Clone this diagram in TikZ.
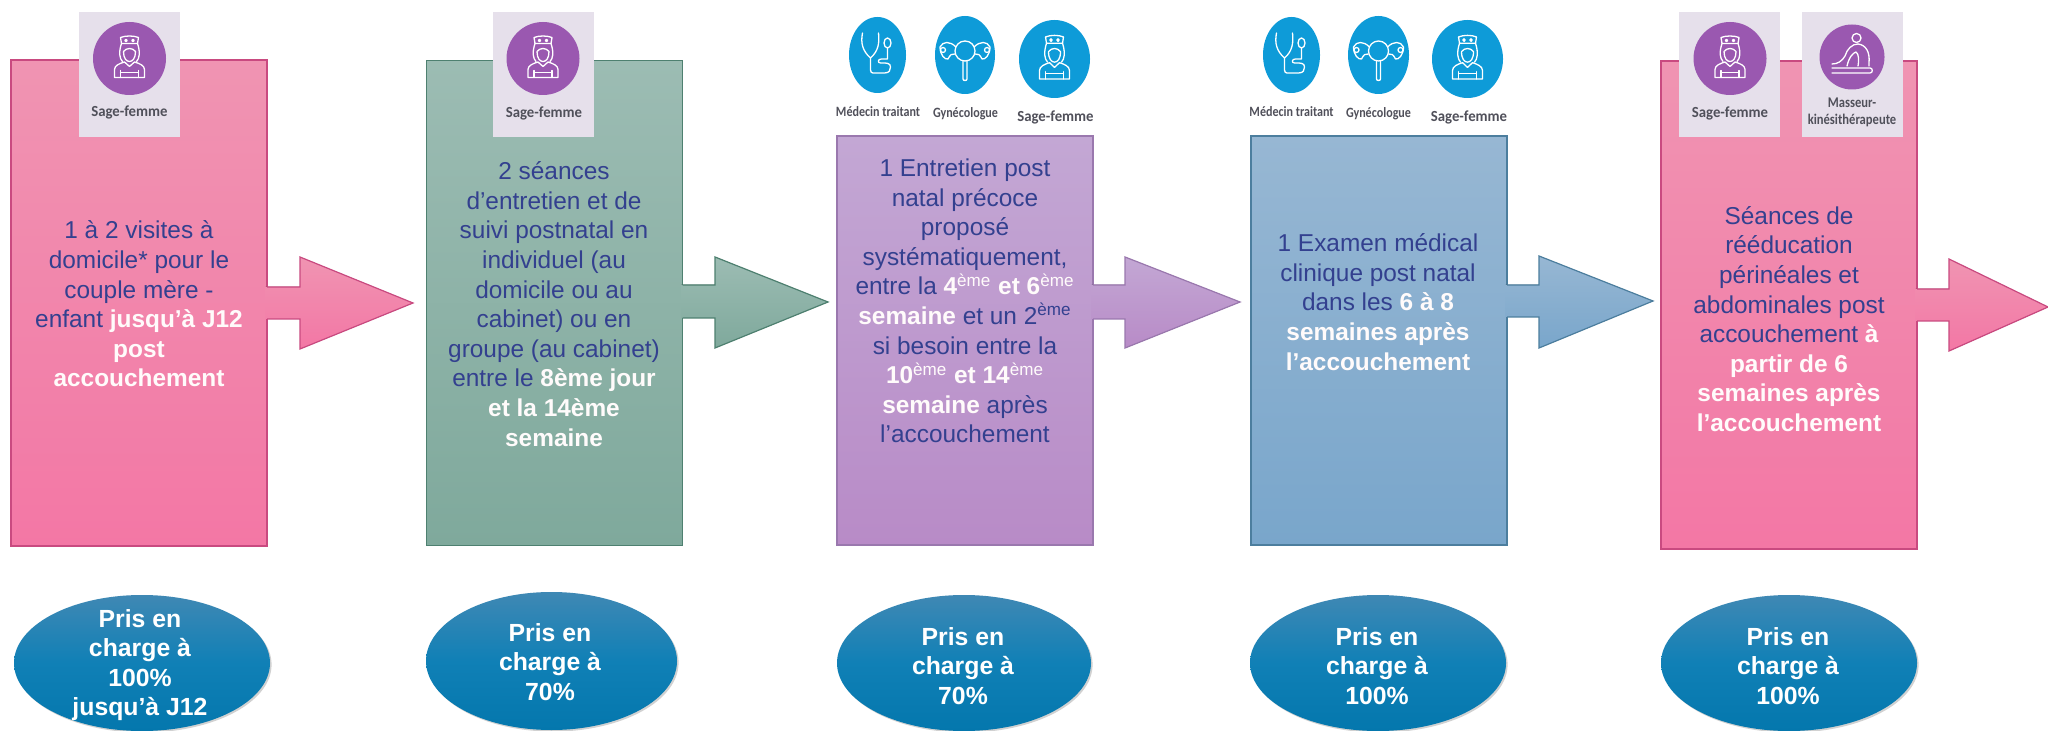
\documentclass[tikz,border=0pt]{standalone}
\usepackage{fontspec}
\setmainfont{Liberation Sans}
\newfontfamily\labfont[FakeStretch=.96]{Carlito}
\newfontfamily\labcond[FakeStretch=.85]{Carlito}
\usetikzlibrary{shapes.geometric,shadows}
\definecolor{navy}{HTML}{33408F}
\definecolor{pinkT}{HTML}{F094B2}\definecolor{pinkB}{HTML}{F377A5}\definecolor{pinkL}{HTML}{C94A80}
\definecolor{greenT}{HTML}{9CBCB3}\definecolor{greenB}{HTML}{7FA99C}\definecolor{greenL}{HTML}{4E8070}
\definecolor{lilacT}{HTML}{C3A7D4}\definecolor{lilacB}{HTML}{B88BC7}\definecolor{lilacL}{HTML}{9A78AE}
\definecolor{blueT}{HTML}{97B7D3}\definecolor{blueB}{HTML}{79A6CB}\definecolor{blueL}{HTML}{4C7E9E}
\definecolor{pillT}{HTML}{3F88B4}\definecolor{pillM}{HTML}{1080B6}\definecolor{pillB}{HTML}{0477AD}
\definecolor{tile}{HTML}{E6E0EB}
\definecolor{purplec}{HTML}{9A58B0}
\definecolor{bluec}{HTML}{0E9BD8}
\definecolor{labc}{HTML}{50505A}
\newcommand{\wb}[1]{\textcolor{white!94!pink}{\bfseries #1}}
\newcommand{\sq}[1]{\textsuperscript{#1}}
\newcommand{\sqw}[1]{\textsuperscript{\mdseries #1}}
\tikzset{
  box/.style={draw=#1L,line width=.6pt,top color=#1T,bottom color=#1B,inner sep=0pt,outer sep=0pt},
  bodytext/.style={text=navy,align=center,inner sep=0pt,font=\fontsize{12.2}{14.8}\selectfont},
  pill/.style={ellipse,inner sep=0pt,outer sep=0pt,top color=pillT,bottom color=pillB,middle color=pillM,
     drop shadow={shadow xshift=.8pt,shadow yshift=-.8pt,opacity=.18,fill=black}},
  pilltext/.style={text=white,align=center,inner sep=0pt,font=\bfseries\fontsize{12.4}{14.8}\selectfont},
  tilebox/.style={fill=tile,inner sep=0pt,outer sep=0pt,minimum width=50.5pt,minimum height=62.5pt},
  disc/.style={ellipse,inner sep=0pt,outer sep=0pt},
  lab/.style={text=labc,inner sep=0pt,align=center,font=\labfont\bfseries\fontsize{7.7}{8.6}\selectfont},
  condlab/.style={text=labc,inner sep=0pt,align=center,font=\labcond\bfseries\fontsize{7.1}{8}\selectfont},
  smalllab/.style={text=labc,inner sep=0pt,align=center,font=\labcond\bfseries\fontsize{7.4}{8.6}\selectfont},
  icon/.style={draw=white,line width=.65pt,line cap=round,line join=round,fill=none},
}
\newcommand{\nurseicon}[4]{%
 \begin{scope}[shift={(#1,#2)},xscale=#3,yscale=#4,icon]
  \draw (-8,-15) -- (-9,-21) .. controls (-4,-23) and (4,-23) .. (9,-21) -- (8,-15) -- cycle;
  \draw (-3.5,-18) circle[radius=1.2] (3.5,-18) circle[radius=1.2];
  \draw (-8,-15) .. controls (-11,-6) and (-10,0) .. (-7,3) (8,-15) .. controls (11,-6) and (10,0) .. (7,3);
  \draw (-6,-7) .. controls (-3,-11) and (3,-11) .. (6,-7) .. controls (6,0) and (3,3) .. (0,3) .. controls (-3,3) and (-6,0) .. (-6,-7);
  \draw (-15,19) -- (-15,11) .. controls (-15,7) and (-10,5) .. (-5,3.5) -- (0,8) -- (5,3.5) .. controls (10,5) and (15,7) .. (15,11) -- (15,19) -- cycle;
  \draw (-9,19) -- (-9,12) (9,19) -- (9,12) (-9,14) -- (9,14);
 \end{scope}}
\newcommand{\stethicon}[2]{%
 \begin{scope}[shift={(#1,#2)},icon]
  \draw (-15,-22) .. controls (-17,-12) and (-15,-4) .. (-7,3) .. controls (1,-4) and (2,-12) .. (1,-22);
  \draw (-7,3) -- (-7,15) .. controls (-7,19) and (-3,18) .. (-1,18) -- (7,18) .. controls (12,18) and (13,15) .. (13,12) .. controls (13,8) and (9,8) .. (5,8) -- (3,8) .. controls (0,8) and (0,4) .. (4,4) -- (10,4) .. controls (10,0) and (10,-4) .. (10,-7);
  \draw (10,-12) ellipse[x radius=3.5,y radius=5];
 \end{scope}}
\newcommand{\uterusicon}[2]{%
 \begin{scope}[shift={(#1,#2)},icon]
  \draw (0,-4) circle[radius=10];
  \draw (-2,6) -- (-2,24) .. controls (-2,26) and (2,26) .. (2,24) -- (2,6);
  \draw (-9,-8) .. controls (-15,-14) and (-22,-14) .. (-25,-8) .. controls (-25,0) and (-20,5) .. (-17,4) .. controls (-15,0) and (-13,-2) .. (-10,-1);
  \draw (9,-8) .. controls (15,-14) and (22,-14) .. (25,-8) .. controls (25,0) and (20,5) .. (17,4) .. controls (15,0) and (13,-2) .. (10,-1);
  \draw (-22,-5) circle[radius=2.5] (22,-5) circle[radius=2.5];
 \end{scope}}
\newcommand{\massageicon}[2]{%
 \begin{scope}[shift={(#1,#2)},icon]
  \draw (4.5,-19) circle[radius=4.5];
  \draw (-20,7) .. controls (-14,7) and (-10,4) .. (-7,-1) .. controls (-5,-8) and (0,-13) .. (6,-13) .. controls (14,-12) and (18,-5) .. (17,6) -- (17,9);
  \draw (-5,9) .. controls (-3,0) and (1,-4) .. (4,-5) .. controls (7,-3) and (7,4) .. (6,9);
  \draw (-20,11) -- (18,11) .. controls (21,11) and (21,16) .. (18,16) -- (-20,16);
 \end{scope}}
\newcommand{\blockarrow}[9]{% xbase xhead xtip ybodytop ybodybot yheadtop yheadbot ytip colour
  \fill[top color=#9T,bottom color=#9B] (#1-1.5,#4) -- (#2,#4) -- (#2,#6) -- (#3,#8) -- (#2,#7) -- (#2,#5) -- (#1-1.5,#5) -- cycle;
  \draw[#9L,line width=.6pt,line join=miter] (#1,#4) -- (#2,#4) -- (#2,#6) -- (#3,#8) -- (#2,#7) -- (#2,#5) -- (#1,#5);}
\begin{document}
\begin{tikzpicture}[x=.5pt,y=-.5pt]
\useasboundingbox (0,0) rectangle (2048,731);
\fill[white] (0,0) rectangle (2048,731);
% boxes
\node[box=pink,minimum width=128pt,minimum height=243pt] (b1) at (139,303) {};
\node[box=green,minimum width=128pt,minimum height=242.5pt] (b2) at (554.5,303) {};
\node[box=lilac,minimum width=128pt,minimum height=204.5pt] (b3) at (965,340.5) {};
\node[box=blue,minimum width=128pt,minimum height=204.5pt] (b4) at (1379,340.5) {};
\node[box=pink,minimum width=128pt,minimum height=244pt] (b5) at (1789,305) {};
% block arrows
\blockarrow{267}{300}{413}{287}{319}{257}{349}{303}{pink}
\blockarrow{682.5}{715}{828}{285}{318}{257}{348}{302}{green}
\blockarrow{1093}{1125}{1240}{285}{319}{257}{348}{302}{lilac}
\blockarrow{1507}{1539}{1653}{285}{317}{256}{348}{301}{blue}
\blockarrow{1917}{1949}{2048}{289}{321}{259}{351}{307}{pink}
% box texts
\node[bodytext] (t1) at (139,304) {1 à 2 visites à\\domicile* pour le\\couple mère -\\enfant \wb{jusqu’à J12}\\\wb{post}\\\wb{accouchement}};
\node[bodytext] (t2) at (554,304) {2 séances\\d’entretien et de\\suivi postnatal en\\individuel (au\\domicile ou au\\cabinet) ou en\\groupe (au cabinet)\\entre le \wb{8ème jour}\\\wb{et la 14ème}\\\wb{semaine}};
\node[bodytext] (t3) at (965,301) {1 Entretien post\\natal précoce\\proposé\\systématiquement,\\entre la \wb{4\sqw{ème} et 6\sqw{ème}}\\\wb{semaine} et un 2\sq{ème}\\si besoin entre la\\\wb{10\sqw{ème} et 14\sqw{ème}}\\\wb{semaine} après\\l’accouchement};
\node[bodytext] (t4) at (1378,302) {1 Examen médical\\clinique post natal\\dans les \wb{6 à 8}\\\wb{semaines après}\\\wb{l’accouchement}};
\node[bodytext] (t5) at (1789,319) {Séances de\\rééducation\\périnéales et\\abdominales post\\accouchement \wb{à}\\\wb{partir de 6}\\\wb{semaines après}\\\wb{l’accouchement}};
% ellipses
\node[pill,minimum width=128pt,minimum height=68pt] (e1) at (142,663) {};
\node[pill,minimum width=125.5pt,minimum height=69pt] (e2) at (551.5,661) {};
\node[pill,minimum width=127pt,minimum height=68pt] (e3) at (964,663) {};
\node[pill,minimum width=128pt,minimum height=68pt] (e4) at (1378,663) {};
\node[pill,minimum width=128pt,minimum height=68pt] (e5) at (1789,663) {};
\node[pilltext] (p1) at (140,665) {Pris en\\charge à\\100\%\\jusqu’à J12};
\node[pilltext] (p2) at (550,662) {Pris en\\charge à\\70\%};
\node[pilltext] (p3) at (963,666) {Pris en\\charge à\\70\%};
\node[pilltext] (p4) at (1377,666) {Pris en\\charge à\\100\%};
\node[pilltext] (p5) at (1788,666) {Pris en\\charge à\\100\%};
% purple tiles
\node[tilebox] (s1) at (129,74.5) {};
\node[tilebox] (s2) at (543,74.5) {};
\node[tilebox] (s5) at (1729,74.5) {};
\node[tilebox] (m5) at (1852.5,74.5) {};
\node[disc,fill=purplec,minimum width=36.5pt,minimum height=36.5pt] (c1) at (129.5,58.5) {};
\nurseicon{129.5}{58.5}{1}{1}
\node[lab] (l1) at (129.5,112.5) {Sage-femme};
\node[disc,fill=purplec,minimum width=36.5pt,minimum height=36.5pt] (c2) at (543,58.5) {};
\nurseicon{543}{58.5}{1}{1}
\node[lab] (l2) at (544,113) {Sage-femme};
\node[disc,fill=purplec,minimum width=36.5pt,minimum height=36.5pt] (c5) at (1730,58.5) {};
\nurseicon{1730}{58.5}{1}{1}
\node[lab] (l5) at (1730,113) {Sage-femme};
\node[disc,fill=purplec,minimum width=32.5pt,minimum height=32.5pt] (c6) at (1852,57) {};
\massageicon{1852}{57}
\node[smalllab] (l6) at (1852,112.5) {Masseur-\\kinésithérapeute};
% blue discs, box 3
\node[disc,fill=bluec,minimum width=28.5pt,minimum height=38pt] (d1) at (877.5,55) {};
\stethicon{877.5}{55}
\node[disc,fill=bluec,minimum width=30pt,minimum height=39pt] (d2) at (965,55) {};
\uterusicon{965}{55}
\node[disc,fill=bluec,minimum width=35.5pt,minimum height=39pt] (d3) at (1054.5,59) {};
\nurseicon{1054.5}{59}{1}{1.05}
\node[condlab] (n1) at (878,112) {Médecin traitant};
\node[condlab] (n2) at (965.5,114) {Gynécologue};
\node[lab] (n3) at (1055.5,117) {Sage-femme};
% blue discs, box 4
\node[disc,fill=bluec,minimum width=28.5pt,minimum height=38pt] (d4) at (1291.5,55) {};
\stethicon{1291.5}{55}
\node[disc,fill=bluec,minimum width=30.5pt,minimum height=39pt] (d5) at (1378.5,55) {};
\uterusicon{1378.5}{55}
\node[disc,fill=bluec,minimum width=35.5pt,minimum height=39pt] (d6) at (1467.5,59) {};
\nurseicon{1467.5}{59}{1}{1.05}
\node[condlab] (n4) at (1291.5,112) {Médecin traitant};
\node[condlab] (n5) at (1378.5,114) {Gynécologue};
\node[lab] (n6) at (1469,117) {Sage-femme};
\end{tikzpicture}
\end{document}
